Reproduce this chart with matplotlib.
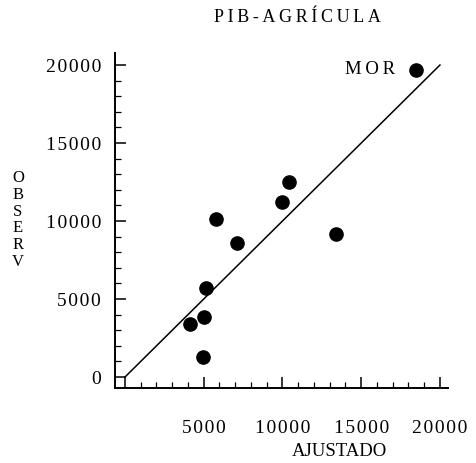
import matplotlib

matplotlib.use("Agg")
import matplotlib.pyplot as plt
from matplotlib.ticker import FixedLocator, FixedFormatter, MultipleLocator

# Fitted (AJUSTADO) vs observed (OBSERV) values
ajustado = [10400, 10000, 5800, 7100, 13400, 5150, 5000, 4150, 4950, 18450]
observ = [12500, 11200, 10150, 8600, 9150, 5700, 3850, 3400, 1300, 19700]
mor_x, mor_y = 18450, 19700
ref_line = [0, 20000]

x_ticks = [5000, 10000, 15000, 20000]
y_ticks = [0, 5000, 10000, 15000, 20000]
TS = "\u2009"   # thin space, mimics the wide letter spacing of the scan
HS = "\u200a"   # hair space
x_labels = [HS.join(str(v)) for v in x_ticks]
y_labels = [HS.join(str(v)) for v in y_ticks]

FONT = ["Liberation Serif", "DejaVu Serif"]
plt.rcParams["font.family"] = FONT

W, H = 476, 463
fig = plt.figure(figsize=(W / 100, H / 100), dpi=100)
ax = fig.add_axes([115 / W, 1 - 388 / H, (448 - 115) / W, (388 - 53) / H])

ax.plot(ref_line, ref_line, color="black", linewidth=1.1)
ax.plot(ajustado, observ, "o", color="black", markersize=9.5, linestyle="none")
ax.text(mor_x - 1300, mor_y, TS.join("MOR"), ha="right", va="center", fontsize=13.5)

ax.set_xlim(-635, 20510)
ax.set_ylim(-705, 20770)

for side in ("top", "right"):
    ax.spines[side].set_visible(False)
for side in ("left", "bottom"):
    ax.spines[side].set_linewidth(1.4)

ax.xaxis.set_major_locator(FixedLocator([0] + x_ticks))
ax.xaxis.set_major_formatter(FixedFormatter([""] + x_labels))
ax.yaxis.set_major_locator(FixedLocator(y_ticks))
ax.yaxis.set_major_formatter(FixedFormatter(y_labels))
ax.xaxis.set_minor_locator(MultipleLocator(1000))
ax.yaxis.set_minor_locator(MultipleLocator(1000))

ax.tick_params(axis="both", which="major", direction="in", length=8, width=1.1,
               labelsize=14)
ax.tick_params(axis="both", which="minor", direction="in", length=4, width=0.9)
ax.tick_params(axis="x", which="major", pad=23)
ax.tick_params(axis="y", which="major", pad=10)

fig.text(297 / W, 1 - 18 / H, TS.join("PIB-AGRÍCULA"), ha="center", va="center",
         fontsize=13)
fig.text(339 / W, 1 - 451 / H, "AJUSTADO", ha="center", va="center",
         fontsize=13.5)
fig.text(18 / W, 1 - 220 / H, "\n".join("OBSERV"), ha="center", va="center",
         fontsize=12, linespacing=1.08)

fig.savefig("out.png", dpi=100)
